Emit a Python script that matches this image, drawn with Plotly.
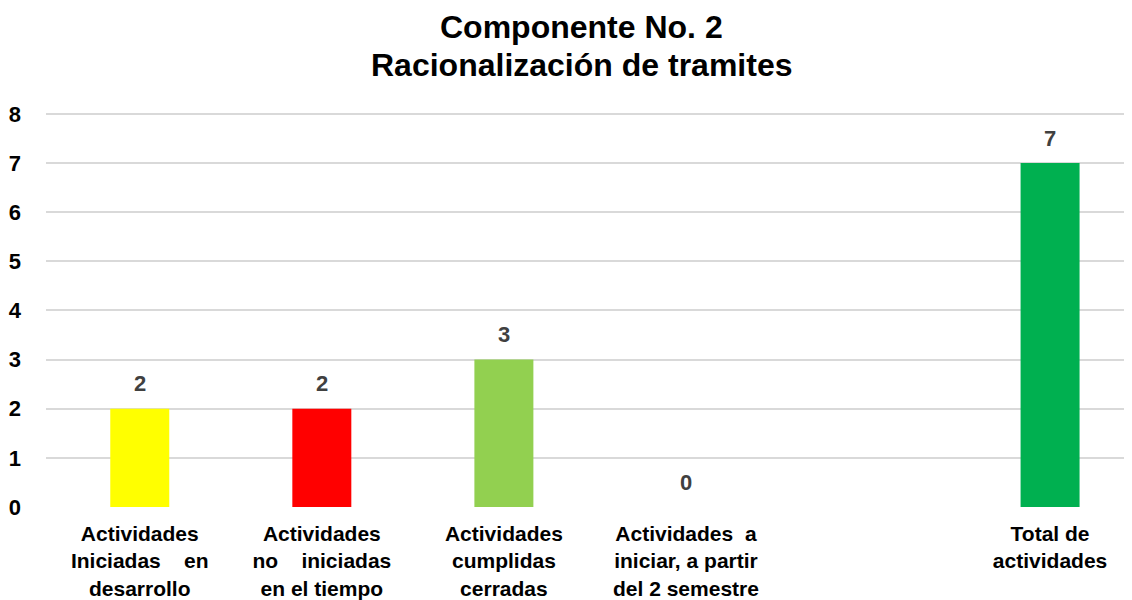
import plotly.graph_objects as go

categories = [
    "Actividades<br>Iniciadas\u00a0\u00a0\u00a0 en<br>desarrollo",
    "Actividades<br>no\u00a0\u00a0\u00a0 iniciadas<br>en el tiempo",
    "Actividades<br>cumplidas<br>cerradas",
    "Actividades\u00a0 a<br>iniciar, a partir<br>del 2 semestre",
    "",
    "Total de<br>actividades",
]
values = [2, 2, 3, 0, None, 7]
colors = ["#FFFF00", "#FF0000", "#92D050", "#92D050", "#92D050", "#00B050"]
y_ticks = [0, 1, 2, 3, 4, 5, 6, 7, 8]
title_lines = ["Componente No. 2", "Racionalización de tramites"]

positions = list(range(len(categories)))
FONT = "Liberation Sans, Arial"

fig = go.Figure(
    go.Bar(
        x=positions,
        y=values,
        width=0.324,
        marker=dict(color=colors, line=dict(width=0)),
        hoverinfo="skip",
    )
)

# data labels
for p, v in zip(positions, values):
    if v is None:
        continue
    fig.add_annotation(
        x=p, y=v, xref="x", yref="y",
        text="<b>%d</b>" % v,
        showarrow=False,
        yshift=25,
        yanchor="middle",
        font=dict(family=FONT, size=22, color="#404040"),
    )

# title, one annotation per line
for line, fig_y in zip(title_lines, [19, 57]):
    fig.add_annotation(
        x=(573 - 38) / 1086, y=(500 - fig_y) / 399, xref="paper", yref="paper",
        xanchor="center", yanchor="middle",
        text="<b>" + line + "</b>",
        showarrow=False,
        font=dict(family=FONT, size=32, color="#000000"),
    )

fig.update_layout(
    width=1124,
    height=592,
    margin=dict(l=38, r=0, t=101, b=92, autoexpand=False),
    paper_bgcolor="white",
    plot_bgcolor="white",
    showlegend=False,
    font=dict(family=FONT, color="#000000"),
)

fig.update_xaxes(
    range=[-0.515, 5.45],
    tickmode="array",
    tickvals=positions,
    ticktext=["<b>" + c + "</b>" for c in categories],
    tickfont=dict(family=FONT, size=21, color="#000000"),
    showgrid=False,
    zeroline=False,
    showline=False,
    ticks="",
    ticklabelstandoff=11,
    tickangle=0,
    automargin=False,
)

fig.update_yaxes(
    range=[-0.02, 8.1],
    tickmode="array",
    tickvals=y_ticks,
    ticktext=["<b>%d</b>" % t for t in y_ticks],
    tickfont=dict(family=FONT, size=22, color="#000000"),
    showgrid=True,
    gridcolor="#D9D9D9",
    gridwidth=1.5,
    zeroline=False,
    showline=False,
    ticks="",
    ticklabelstandoff=24,
    automargin=False,
)

fig.write_html("out.html")
